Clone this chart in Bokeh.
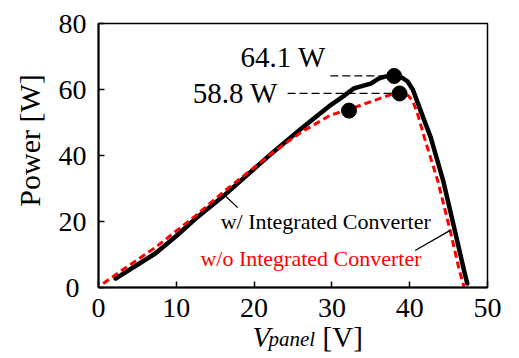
from bokeh.plotting import figure
from bokeh.models import Label, FixedTicker, Range1d
from bokeh.layouts import column
from bokeh.embed import file_html
from bokeh.resources import INLINE

# Data: w/ Integrated Converter (black, solid)
v_with = [2.2, 3.0, 5.0, 7.3, 10.0, 12.5, 16.3, 20.8, 22.4, 26.0, 29.8, 31.5, 32.8, 33.5,
          35.0, 36.0, 36.8, 38.0, 39.0, 39.7, 40.4, 41.4, 42.7, 44.3, 45.8, 47.0, 47.4]
p_with = [2.7, 3.9, 6.9, 10.3, 15.6, 20.9, 28.2, 37.6, 40.9, 48.0, 55.2, 58.0, 60.3, 60.8,
          61.8, 63.3, 63.9, 64.1, 63.6, 62.5, 60.0, 53.6, 45.5, 32.4, 17.3, 5.0, 1.2]

# Data: w/o Integrated Converter (red, dashed)
v_without = [0.6, 3.0, 7.3, 12.5, 16.3, 22.4, 26.0, 29.8, 32.2, 35.0, 37.5, 38.6, 39.8,
             40.4, 41.0, 42.0, 43.6, 45.2, 46.3, 47.0]
p_without = [1.2, 5.2, 12.1, 21.8, 29.4, 40.9, 47.0, 52.2, 54.0, 56.3, 58.4, 59.0, 58.2,
             56.5, 52.7, 44.5, 32.4, 17.3, 6.0, 0.0]

# Marked points
dot_v = [38.0, 38.7, 32.2]
dot_p = [64.1, 58.8, 53.6]

# Peak annotations
peak_labels = ["64.1 W", "58.8 W"]
peak_values = [64.1, 58.8]
peak_line_start = [29.8, 24.3]
peak_line_end = [37.6, 38.3]

x_ticks = [0, 10, 20, 30, 40, 50]
y_ticks = [0, 20, 40, 60, 80]

FONT = "Liberation Serif"

p = figure(width=511, height=331, output_backend="svg", toolbar_location=None,
           x_range=Range1d(0, 50), y_range=Range1d(0, 80),
           min_border_left=98, min_border_right=24, min_border_top=23, min_border_bottom=44)
p.background_fill_color = "white"
p.border_fill_color = "white"
p.outline_line_color = "black"
p.outline_line_width = 1.5
p.xgrid.visible = False
p.ygrid.visible = False

for ax in (p.xaxis[0], p.yaxis[0]):
    ax.axis_line_color = "black"
    ax.axis_line_width = 2
    ax.major_tick_in = 6
    ax.major_tick_out = 0
    ax.major_tick_line_width = 1.5
    ax.minor_tick_line_color = None
    ax.major_label_text_font = FONT
    ax.major_label_text_font_size = "28px"
    ax.major_label_text_color = "black"

p.xaxis.ticker = FixedTicker(ticks=x_ticks)
p.yaxis.ticker = FixedTicker(ticks=y_ticks)
p.xaxis.major_label_standoff = 11
p.yaxis.major_label_standoff = 12
p.yaxis.major_label_overrides = {0: "0\u2008"}

p.yaxis.axis_label = "\u00a0\u00a0\u00a0\u00a0Power [W]"
p.yaxis.axis_label_text_font = FONT
p.yaxis.axis_label_text_font_size = "30px"
p.yaxis.axis_label_text_font_style = "normal"
p.yaxis.axis_label_text_color = "black"
p.yaxis.axis_label_standoff = 10

# Curves
p.line(v_with, p_with, line_color="black", line_width=4.5, line_join="round", line_cap="round")
p.line(v_without, p_without, line_color="#ff0000", line_width=3, line_dash="7 4")

# Peak dashed guide lines
for i in range(2):
    p.line([peak_line_start[i], peak_line_end[i]], [peak_values[i], peak_values[i]],
           line_color="black", line_width=1.3, line_dash="8 4")

p.scatter(dot_v, dot_p, size=15, color="black")

# Peak labels
p.add_layout(Label(x=18.25, y=69.7, text=peak_labels[0], text_font=FONT, text_font_size="29px",
                   text_align="left", text_baseline="middle", text_color="black"))
p.add_layout(Label(x=12.1, y=58.8, text=peak_labels[1], text_font=FONT, text_font_size="29px",
                   text_align="left", text_baseline="middle", text_color="black"))

# Series labels with leader lines
p.add_layout(Label(x=15.7, y=20.0, text="w/ Integrated Converter", text_font=FONT,
                   text_font_size="22px", text_align="left", text_baseline="middle",
                   text_color="black"))
p.add_layout(Label(x=13.1, y=8.8, text="w/o Integrated Converter", text_font=FONT,
                   text_font_size="22px", text_align="left", text_baseline="middle",
                   text_color="#ff0000"))
p.line([16.1, 17.9], [28.2, 24.2], line_color="black", line_width=1.3)
p.line([40.7, 45.2], [11.2, 17.3], line_color="black", line_width=1.3)

# X axis title strip (mixed italic / subscript text), shares the x range,
# transparent and pulled up so the title's full text box fits inside it
xt = figure(width=511, height=45, output_backend="svg", toolbar_location=None,
            x_range=p.x_range, y_range=Range1d(0, 45),
            min_border_left=98, min_border_right=24, min_border_top=0, min_border_bottom=0)
xt.margin = (-18, 0, 0, 0)
xt.axis.visible = False
xt.xgrid.visible = False
xt.ygrid.visible = False
xt.outline_line_color = None
xt.background_fill_color = None
xt.border_fill_color = None
xt.add_layout(Label(x=19.8, y=22, text="V", text_font=FONT, text_font_size="29px",
                    text_font_style="italic", text_align="left", text_baseline="middle",
                    text_color="black"))
xt.add_layout(Label(x=21.85, y=20, text="panel", text_font=FONT, text_font_size="21px",
                    text_font_style="italic", text_align="left", text_baseline="middle",
                    text_color="black"))
xt.add_layout(Label(x=28.8, y=22, text="[V]", text_font=FONT, text_font_size="29px",
                    text_align="left", text_baseline="middle", text_color="black"))

layout = column(p, xt, spacing=0)
open("out.html", "w").write(file_html(layout, INLINE))
